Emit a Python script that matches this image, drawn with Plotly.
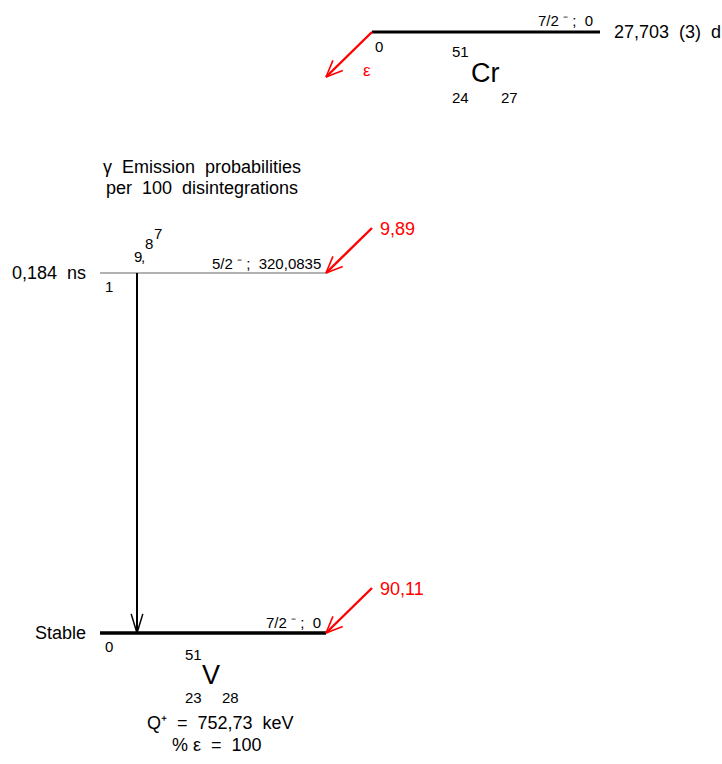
import math
import plotly.graph_objects as go

# ---------------- data ----------------
parent_A = "51"
parent_symbol = "Cr"
parent_Z = "24"
parent_N = "27"
parent_spin = "7/2"
parent_parity = "⁻"
parent_energy_label = "0"
parent_halflife = "27,703  (3)  d"

daughter_A = "51"
daughter_symbol = "V"
daughter_Z = "23"
daughter_N = "28"

level_energy_keV = [0.0, 320.0835]
level_energy_label = ["0", "320,0835"]
level_spin = ["7/2", "5/2"]
level_parity = ["⁻", "⁻"]
level_halflife = ["Stable", "0,184  ns"]
level_index = ["0", "1"]
level_feeding = ["90,11", "9,89"]

gamma_from = [1]
gamma_to = [0]
gamma_intensity = ["9,87"]

q_value = "752,73"
decay_mode = "ε"
branching = "100"

title_lines = ["γ  Emission  probabilities", "per  100  disintegrations"]

# ---------------- layout constants ----------------
W, H = 722, 764
FONT = "Liberation Sans, Arial, sans-serif"
RED = "#ff0000"
X_LEFT, X_RIGHT = 100, 326
Y_GROUND, Y_FIRST = 633, 273
SCALE = (Y_GROUND - Y_FIRST) / level_energy_keV[1]
PARENT_X0, PARENT_X1, PARENT_Y = 372, 600, 32
GAMMA_X = 137
FEED_DX, FEED_DY = 46, 45
GAMMA_CHAR_OFFSETS = [(0.5, -16.5), (5.5, -16.5), (12, -30), (21, -40)]
NB = "\u00a0"

fig = go.Figure()
ann = []


def txt(x, y, s, size, xanchor="center", color="black"):
    ann.append(dict(x=x, y=y, xref="x", yref="y", text=s, showarrow=False,
                    xanchor=xanchor, yanchor="middle",
                    font=dict(family=FONT, size=size, color=color)))


def line(xs, ys, color="black", width=2):
    fig.add_trace(go.Scatter(x=xs, y=ys, mode="lines", hoverinfo="skip",
                             line=dict(color=color, width=width)))


def arrow(x0, y0, x1, y1, color, width, head_len, head_ang, head_w):
    line([x0, x1], [y0, y1], color, width)
    ang = math.atan2(y0 - y1, x0 - x1)
    for s in (-1, 1):
        a = ang + s * math.radians(head_ang)
        line([x1, x1 + head_len * math.cos(a)], [y1, y1 + head_len * math.sin(a)],
             color, head_w)


def spaced(s):
    return s.replace("  ", NB + NB)


# parent level
line([PARENT_X0, PARENT_X1], [PARENT_Y, PARENT_Y], "black", 3)
txt(PARENT_X1 - 5, PARENT_Y - 12,
    f"{parent_spin} {parent_parity} ;{NB} {parent_energy_label}", 15, "right")
txt(PARENT_X1 + 12, PARENT_Y, spaced(parent_halflife), 18, "left")
txt(PARENT_X0 + 1, PARENT_Y + 14, parent_energy_label, 15, "left")
txt(460, 51, parent_A, 15)
txt(485.5, 73, parent_symbol, 27)
txt(460, 97, parent_Z, 15)
txt(509, 97, parent_N, 15)
arrow(PARENT_X0, PARENT_Y, PARENT_X0 - 46, PARENT_Y + 45, RED, 2.4, 18, 23, 1.6)
txt(367, 70, decay_mode, 17, color=RED)

# title
txt(202, 167, spaced(title_lines[0]), 18)
txt(202, 188, spaced(title_lines[1]), 18)

# daughter levels
level_y = [Y_GROUND - e * SCALE for e in level_energy_keV]
for i, y in enumerate(level_y):
    ground = level_energy_keV[i] == 0
    lw = 3.5 if ground else 1.2
    line([X_LEFT, X_RIGHT], [y, y], "black" if ground else "#666666", lw)
    txt(X_RIGHT - 3, y - lw / 2 - 8.5,
        f"{level_spin[i]} {level_parity[i]} ;{NB} {level_energy_label[i]}", 15, "right")
    txt(X_LEFT - 12, y, spaced(level_halflife[i]), 18, "right")
    txt(X_LEFT + 3, y + 13, level_index[i], 15, "left")
    arrow(X_RIGHT + FEED_DX, y - FEED_DY, X_RIGHT, y, RED, 2.4, 18, 23, 1.6)
    txt(X_RIGHT + 52, y - FEED_DY + 1, level_feeding[i], 18, "left", RED)

# gamma transitions
for g, (a, b) in enumerate(zip(gamma_from, gamma_to)):
    arrow(GAMMA_X, level_y[a], GAMMA_X, level_y[b], "black", 2, 20, 17, 1.5)
    for ch, (dx, dy) in zip(gamma_intensity[g], GAMMA_CHAR_OFFSETS):
        txt(GAMMA_X + dx, level_y[a] + dy, ch, 15)

# daughter nuclide
txt(193.5, 654, daughter_A, 15)
txt(211, 675, daughter_symbol, 27)
txt(193.5, 697, daughter_Z, 15)
txt(230.5, 697, daughter_N, 15)
txt(220, 723, f"Q⁺{NB}{NB}={NB}{NB}{q_value}{NB}{NB}keV", 18)
txt(217, 745, f"%{NB}{decay_mode}{NB}{NB}={NB}{NB}{branching}", 18)

fig.update_layout(
    width=W, height=H, margin=dict(l=0, r=0, t=0, b=0, pad=0),
    paper_bgcolor="white", plot_bgcolor="white", showlegend=False,
    xaxis=dict(range=[0, W], visible=False, fixedrange=True),
    yaxis=dict(range=[H, 0], visible=False, fixedrange=True),
    annotations=ann,
)

fig.write_html("out.html", config={"displayModeBar": False},
               post_script="document.body.style.margin='0';")
